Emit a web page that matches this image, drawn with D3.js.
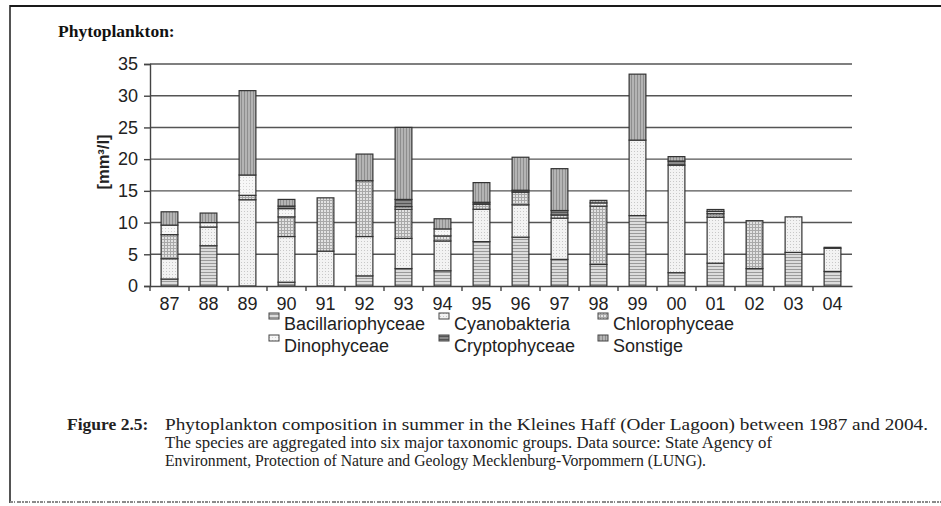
<!DOCTYPE html>
<html>
<head>
<meta charset="utf-8">
<script src="https://cdn.jsdelivr.net/npm/d3@7/dist/d3.min.js"></script>
<style>
  html, body { margin: 0; padding: 0; background: #fff; }
  svg { display: block; }
</style>
</head>
<body>
<div id="chart"></div>
<script>
// data (mm³/l), stacked bottom -> top
const years = ['87', '88', '89', '90', '91', '92', '93', '94', '95', '96', '97', '98', '99', '00', '01', '02', '03', '04'];
const seriesNames = ['Bacillariophyceae', 'Cyanobakteria', 'Chlorophyceae', 'Dinophyceae', 'Cryptophyceae', 'Sonstige'];

const bacillariophyceae = [1.1, 6.35, 0, 0.6, 0, 1.6, 2.75, 2.4, 7.0, 7.7, 4.2, 3.4, 11.1, 2.1, 3.6, 2.75, 5.3, 2.3];
const cyanobakteria     = [3.2, 2.95, 13.6, 7.2, 5.5, 6.2, 4.75, 4.7, 5.1, 5.1, 6.5, 0, 11.9, 16.95, 7.25, 0, 5.6, 3.65];
const chlorophyceae     = [3.8, 0, 0.7, 3.1, 8.4, 8.8, 4.6, 0.8, 0.8, 2.0, 0.5, 9.2, 0, 0, 0.55, 7.55, 0, 0];
const dinophyceae       = [1.5, 0.7, 3.2, 1.3, 0, 0, 0.4, 1.1, 0, 0, 0, 0.5, 0, 0, 0.35, 0, 0, 0];
const cryptophyceae     = [0, 0, 0, 0.4, 0, 0, 1.15, 0, 0.3, 0.3, 0.7, 0, 0, 0.65, 0, 0, 0, 0];
const sonstige          = [2.1, 1.5, 13.3, 1.05, 0, 4.2, 11.35, 1.6, 3.1, 5.2, 6.6, 0.4, 10.4, 0.7, 0.31, 0, 0, 0.15];

const yTicks = [0, 5, 10, 15, 20, 25, 30, 35];

const captionLines = [
  'Phytoplankton composition in summer in the Kleines Haff (Oder Lagoon) between 1987 and 2004.',
  'The species are aggregated into six major taxonomic groups. Data source: State Agency of',
  'Environment, Protection of Nature and Geology Mecklenburg-Vorpommern (LUNG).'
];
const captionWidths = [763, 607, 541];

const width = 941, height = 506;
const plot = { left: 150, right: 852, top: 64, bottom: 286 };

const svg = d3.select('#chart').append('svg')
  .attr('width', width)
  .attr('height', height);

// fill patterns, one per group
const defs = svg.append('defs');
const patternSpecs = [
  { id: 'p0', bg: '#dcdcdc', fg: '#9a9a9a', kind: 'hlines' },
  { id: 'p1', bg: '#f3f3f3', fg: '#c8c8c8', kind: 'dots' },
  { id: 'p2', bg: '#e2e2e2', fg: '#a8a8a8', kind: 'grid' },
  { id: 'p3', bg: '#f7f7f7', fg: '#d4d4d4', kind: 'sparse' },
  { id: 'p4', bg: '#8a8a8a', fg: '#555', kind: 'hlines' },
  { id: 'p5', bg: '#b4b4b4', fg: '#8e8e8e', kind: 'vlines' }
];
patternSpecs.forEach(s => {
  const p = defs.append('pattern')
    .attr('id', s.id)
    .attr('patternUnits', 'userSpaceOnUse')
    .attr('width', 3).attr('height', 3);
  p.append('rect').attr('width', 3).attr('height', 3).attr('fill', s.bg);
  if (s.kind === 'hlines') {
    p.append('rect').attr('x', 0).attr('y', 2).attr('width', 3).attr('height', 1).attr('fill', s.fg);
  } else if (s.kind === 'vlines') {
    p.append('rect').attr('x', 1).attr('y', 0).attr('width', 1).attr('height', 3).attr('fill', s.fg);
  } else if (s.kind === 'dots') {
    p.append('rect').attr('x', 1).attr('y', 1).attr('width', 1).attr('height', 1).attr('fill', s.fg);
  } else if (s.kind === 'grid') {
    p.append('rect').attr('x', 0).attr('y', 2).attr('width', 3).attr('height', 1).attr('fill', s.fg);
    p.append('rect').attr('x', 2).attr('y', 0).attr('width', 1).attr('height', 3).attr('fill', s.fg);
  } else {
    p.append('rect').attr('x', 0).attr('y', 0).attr('width', 1).attr('height', 1).attr('fill', s.fg);
  }
});

// page frame
svg.append('line').attr('x1', 10).attr('x2', width).attr('y1', 6).attr('y2', 6)
  .attr('stroke', '#1a1a1a').attr('stroke-width', 2);
svg.append('line').attr('x1', 10).attr('x2', 10).attr('y1', 5).attr('y2', 503)
  .attr('stroke', '#1a1a1a').attr('stroke-width', 1.5);
svg.append('line').attr('x1', 10).attr('x2', width).attr('y1', 502).attr('y2', 502)
  .attr('stroke', '#8a8a8a').attr('stroke-width', 2)
  .attr('stroke-dasharray', '3,1,1,2,4,1,2,1');

// title
svg.append('text')
  .attr('x', 58).attr('y', 37)
  .attr('font-family', '"Liberation Serif", "DejaVu Serif", serif')
  .attr('font-weight', 'bold')
  .attr('font-size', 17.5)
  .attr('fill', '#111')
  .text('Phytoplankton:');

// scales
const x = d3.scaleBand()
  .domain(years)
  .range([plot.left, plot.right])
  .paddingInner(0.57)
  .paddingOuter(0.285);

const y = d3.scaleLinear()
  .domain([0, 35])
  .range([plot.bottom, plot.top]);

// gridlines
svg.append('g')
  .selectAll('line')
  .data(yTicks.filter(d => d > 0))
  .join('line')
  .attr('x1', plot.left).attr('x2', plot.right)
  .attr('y1', d => y(d)).attr('y2', d => y(d))
  .attr('stroke', '#555').attr('stroke-width', 1.4);

// stacked bars
const table = years.map((yr, i) => ({
  year: yr,
  Bacillariophyceae: bacillariophyceae[i],
  Cyanobakteria: cyanobakteria[i],
  Chlorophyceae: chlorophyceae[i],
  Dinophyceae: dinophyceae[i],
  Cryptophyceae: cryptophyceae[i],
  Sonstige: sonstige[i]
}));
const stacked = d3.stack().keys(seriesNames)(table);

svg.append('g')
  .selectAll('g')
  .data(stacked)
  .join('g')
  .attr('fill', (d, i) => `url(#p${i})`)
  .selectAll('rect')
  .data(d => d.filter(s => s[1] - s[0] > 0))
  .join('rect')
  .attr('x', d => x(d.data.year))
  .attr('y', d => y(d[1]))
  .attr('width', x.bandwidth())
  .attr('height', d => y(d[0]) - y(d[1]))
  .attr('stroke', '#333')
  .attr('stroke-width', 1.2);

// y axis
const yAxis = svg.append('g')
  .attr('transform', `translate(${plot.left},0)`)
  .call(d3.axisLeft(y).tickValues(yTicks).tickSize(6).tickPadding(6));
yAxis.select('.domain').attr('stroke', '#444').attr('stroke-width', 1.4);
yAxis.selectAll('.tick line').attr('stroke', '#444').attr('stroke-width', 1.4);
yAxis.selectAll('text')
  .attr('font-family', '"Liberation Sans", Arial, sans-serif')
  .attr('font-size', 18)
  .attr('fill', '#222');

// x axis: labels from the axis, ticks at category boundaries
const xAxis = svg.append('g')
  .attr('transform', `translate(0,${plot.bottom})`)
  .call(d3.axisBottom(x).tickSize(0).tickPadding(11));
xAxis.select('.domain').attr('stroke', '#444').attr('stroke-width', 1.4);
xAxis.selectAll('text')
  .attr('font-family', '"Liberation Sans", Arial, sans-serif')
  .attr('font-size', 18)
  .attr('fill', '#222');
xAxis.selectAll('.boundary')
  .data(years)
  .join('line')
  .attr('class', 'boundary')
  .attr('x1', d => x(d) - x.step() * x.paddingOuter())
  .attr('x2', d => x(d) - x.step() * x.paddingOuter())
  .attr('y1', 0).attr('y2', 5)
  .attr('stroke', '#444').attr('stroke-width', 1.4);

// y axis title
svg.append('text')
  .attr('transform', 'translate(109,162) rotate(-90)')
  .attr('text-anchor', 'middle')
  .attr('font-family', '"Liberation Sans", Arial, sans-serif')
  .attr('font-weight', 'bold')
  .attr('font-size', 16.5)
  .attr('fill', '#222')
  .text('[mm³/l]');

// legend, 3 columns x 2 rows
const legendCols = [269, 439, 598];
const legendRows = [330, 352];
const legend = svg.append('g')
  .selectAll('g')
  .data(seriesNames)
  .join('g')
  .attr('transform', (d, i) => `translate(${legendCols[i % 3]},${legendRows[Math.floor(i / 3)]})`);
legend.append('rect')
  .attr('x', 0).attr('y', -17)
  .attr('width', 10).attr('height', 6)
  .attr('fill', (d, i) => `url(#p${i})`)
  .attr('stroke', '#444').attr('stroke-width', 1);
legend.append('text')
  .attr('x', 15).attr('y', 0)
  .attr('font-family', '"Liberation Sans", Arial, sans-serif')
  .attr('font-size', 18)
  .attr('fill', '#222')
  .text(d => d);

// caption
svg.append('text')
  .attr('x', 67).attr('y', 430)
  .attr('font-family', '"Liberation Serif", "DejaVu Serif", serif')
  .attr('font-weight', 'bold')
  .attr('font-size', 17.5)
  .attr('fill', '#222')
  .text('Figure 2.5:');

svg.append('g')
  .selectAll('text')
  .data(captionLines)
  .join('text')
  .attr('x', 165)
  .attr('y', (d, i) => 430 + i * 18)
  .attr('font-family', '"Liberation Serif", "DejaVu Serif", serif')
  .attr('font-size', 17)
  .attr('textLength', (d, i) => captionWidths[i])
  .attr('lengthAdjust', 'spacingAndGlyphs')
  .attr('fill', '#222')
  .text(d => d);
</script>
</body>
</html>
